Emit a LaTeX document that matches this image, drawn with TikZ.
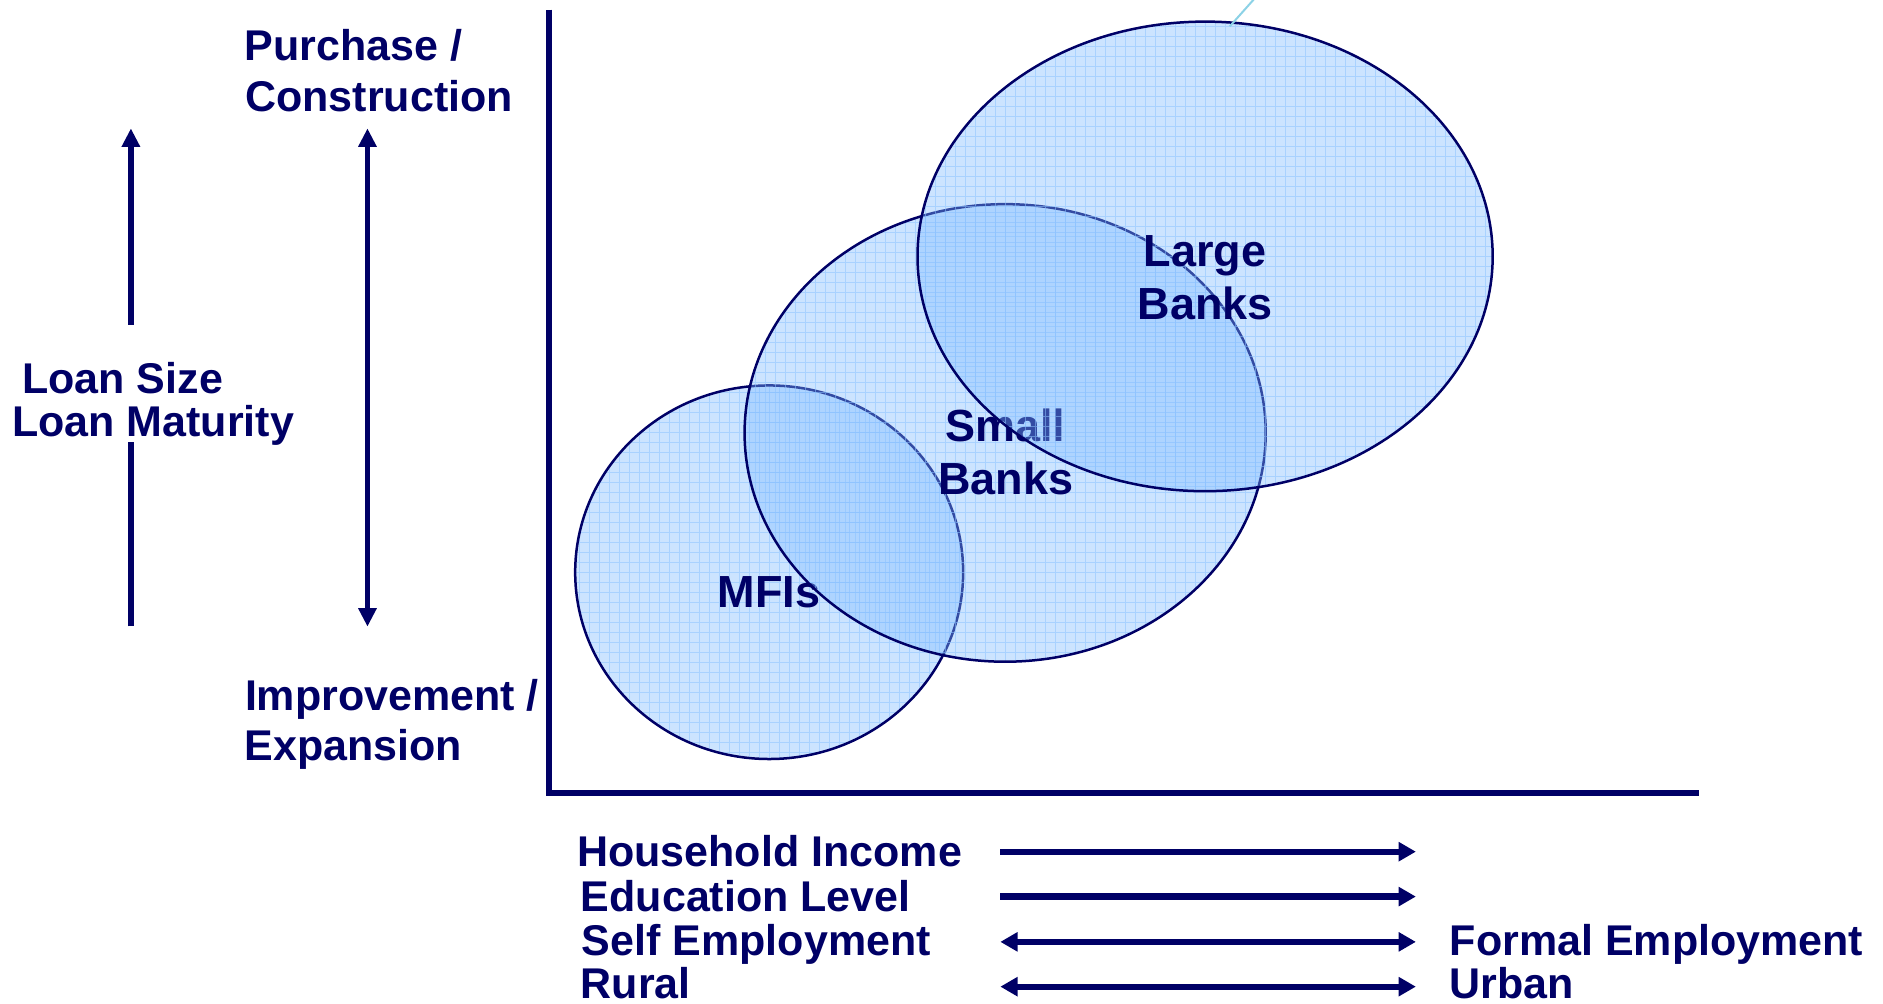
\documentclass[tikz,border=0pt]{standalone}
\usepackage{fontspec}
\setmainfont{Liberation Sans}
\usetikzlibrary{arrows.meta,shapes.geometric}
\definecolor{navy}{RGB}{0,0,102}
\definecolor{bubble}{RGB}{128,188,255}
\definecolor{gridblue}{RGB}{140,195,255}
\definecolor{strayline}{RGB}{140,210,230}
\begin{document}
\begin{tikzpicture}[x=0.6005pt,y=-0.6005pt,
  txt/.style={font=\fontsize{21.5}{26}\selectfont\bfseries, text=navy, inner sep=0pt},
  lefttxt/.style={txt, anchor=base west},
  ctrtxt/.style={txt, font=\fontsize{22.5}{27}\selectfont\bfseries, anchor=base},
  axisline/.style={draw=navy, line width=2.8pt, line join=miter},
  varrow/.style={draw=navy, line width=2.7pt},
  harrow/.style={draw=navy, line width=3.1pt},
  vtip/.tip={Triangle[length=9.2pt,width=8.7pt]},
  htip/.tip={Triangle[length=8.6pt,width=9.2pt]},
  bubblenode/.style={ellipse, inner sep=0pt, draw=navy, line width=1.25pt,
    fill=bubble, fill opacity=0.4, draw opacity=1,
    path picture={\draw[gridblue, line width=0.5pt, opacity=0.55, step=5pt]
      (path picture bounding box.south west) grid (path picture bounding box.north east);}},
]
\useasboundingbox (0,0) rectangle (1568,836);

% axes
\coordinate (ytop) at (457,8);
\coordinate (origin) at (457,660.5);
\coordinate (xend) at (1414.5,660.5);
\draw[axisline] (ytop) -- (origin) -- (xend);

% left vertical labels
\node[lefttxt] (purchase) at (203.6,50.6) {Purchase /};
\node[lefttxt] (construction) at (204,92.6) {Construction};
\node[lefttxt] (improvement) at (203.7,591.6) {Improvement /};
\node[lefttxt] (expansion) at (203.4,633.6) {Expansion};
\node[lefttxt] (loansize) at (18.2,327.3) {Loan Size};
\node[lefttxt] (loanmat) at (9.9,363.8) {Loan Maturity};

% loan size arrow (broken around the label)
\coordinate (lsA) at (109,270.5);
\coordinate (lsB) at (109,106.9);
\coordinate (lsC) at (109,521.5);
\coordinate (lsD) at (109,367.8);
\draw[varrow,-vtip] (lsA) -- (lsB);
\draw[varrow] (lsC) -- (lsD);

% purpose double arrow
\coordinate (pA) at (306,106.9);
\coordinate (pB) at (306,521.8);
\draw[varrow,vtip-vtip] (pB) -- (pA);

% bottom labels
\node[lefttxt] (income) at (480.4,721.6) {Household Income};
\node[lefttxt] (educ) at (483.4,758.6) {Education Level};
\node[lefttxt] (selfemp) at (484.3,795.5) {Self Employment};
\node[lefttxt] (rural) at (483.4,831.5) {Rural};
\node[lefttxt] (formal) at (1207,795.5) {Formal Employment};
\node[lefttxt] (urban) at (1207,831.5) {Urban};

% bottom arrows
\coordinate (a1l) at (833,709.2); \coordinate (a1r) at (1179,709.2);
\coordinate (a2l) at (833,746.6); \coordinate (a2r) at (1179,746.6);
\coordinate (a3l) at (833,784.3); \coordinate (a3r) at (1179,784.3);
\coordinate (a4l) at (833,821.6); \coordinate (a4r) at (1179,821.6);
\draw[harrow,-htip] (a1l) -- (a1r);
\draw[harrow,-htip] (a2l) -- (a2r);
\draw[harrow,htip-htip] (a3l) -- (a3r);
\draw[harrow,htip-htip] (a4l) -- (a4r);

% bubbles
\node[bubblenode, minimum width=194.0pt, minimum height=186.8pt] (mfis) at (640.5,476.5) {};
\node[ctrtxt] (mfilbl) at (640.5,505.8) {MFIs};
\node[bubblenode, minimum width=260.6pt, minimum height=228.8pt] (small) at (837,360.5) {};
\node[ctrtxt] (smalllbl1) at (837,367.8) {Small};
\node[ctrtxt] (smalllbl2) at (837.5,412) {Banks};
\node[bubblenode, minimum width=287.6pt, minimum height=234.8pt] (large) at (1003.5,213.5) {};
\node[ctrtxt] (largelbl1) at (1003.5,221.8) {Large};
\node[ctrtxt] (largelbl2) at (1003.5,265.8) {Banks};

% stray thin line at top
\coordinate (sA) at (1024,22);
\coordinate (sB) at (1044.5,-1);
\draw[strayline, line width=1pt] (sA) -- (sB);
\end{tikzpicture}
\end{document}
